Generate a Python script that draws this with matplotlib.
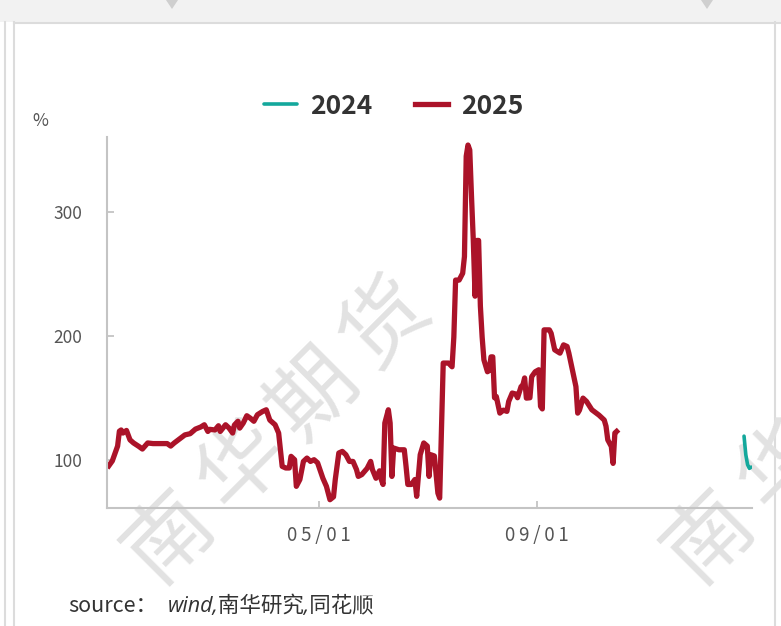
import matplotlib
matplotlib.use("Agg")
import matplotlib.pyplot as plt
from matplotlib.patches import Polygon, Rectangle
from matplotlib.lines import Line2D
import pandas as pd

plt.rcParams['font.family'] = ['Noto Sans CJK SC', 'DejaVu Sans']

# day offsets from Jan 1 and values (%)
days_2025 = [1, 3, 6, 7, 8, 9, 11, 13, 15, 18, 20, 23, 26, 34, 36, 38, 41, 44, 47, 50,
             53, 55, 57, 58, 61, 63, 64, 67, 69, 71, 72, 74, 75, 77, 79, 81, 83, 85, 88, 90,
             92, 95, 97, 99, 101, 103, 104, 106, 107, 109, 111, 113, 115, 117, 119, 121, 122, 124, 126, 128,
             129, 131, 133, 135, 137, 139, 141, 142, 144, 147, 149, 150, 152, 154, 155, 156, 157, 159, 160, 161,
             162, 165, 168, 169, 170, 172, 174, 175, 177, 179, 181, 182, 183, 185, 187, 188, 190, 193, 195, 196,
             197, 199, 201, 202, 203, 204, 205, 206, 207, 208, 209, 210, 211, 212, 213, 215, 216, 217, 218, 219,
             220, 222, 224, 226, 227, 229, 231, 232, 234, 235, 236, 237, 239, 240, 242, 244, 245, 246, 247, 250,
             251, 253, 256, 258, 260, 261, 263, 265, 266, 267, 269, 271, 274, 278, 281, 282, 283, 285, 286, 287,
             288]
vals_2025 = [95, 99, 111, 123, 124, 121.5, 123.6, 116, 113.5, 110.7, 108.6, 113.5, 113, 113, 111, 113.5, 116.7, 120, 121, 124.7,
             126.4, 128.2, 122.8, 124.5, 124, 127.4, 122.8, 128.2, 125.5, 121.5, 128, 131, 125.5, 129.6, 135.5, 133.5, 131, 136.3, 139, 140.3,
             132, 128.2, 121.5, 94.6, 93.3, 93.3, 102.7, 100, 78.5, 84, 98.6, 101.3, 98.6, 100, 97.5, 89, 85, 78.5, 67.7, 70,
             84, 105.4, 106.7, 104, 98.6, 98.6, 92, 86.5, 88, 93, 98.6, 92, 85, 91, 84, 80, 129.6, 140.3, 129.6, 86.5,
             109.4, 108, 108, 94.6, 80, 80, 84, 70.4, 104, 113.5, 111, 86.5, 104, 103, 73, 69, 178, 178, 175, 199,
             245, 245, 250.5, 264, 345, 354, 350, 312, 277, 232, 277, 277, 224, 199, 180.6, 171, 172, 183, 183, 150,
             151, 137.6, 140, 139, 147, 153.8, 153, 150, 159, 160, 166, 149.7, 150, 167, 171, 172.6, 143, 141, 204.8, 204.8,
             202, 188.7, 186, 192.7, 191.4, 186, 172.6, 159, 137.6, 140, 149.7, 147, 140.3, 136, 132, 127, 116, 110.7, 97, 121.5,
             122.8]

days_2024 = [360, 361, 362, 363, 364]
vals_2024 = [119, 104, 96, 93, 94]

base = pd.Timestamp('2025-01-01')
x25 = [base + pd.Timedelta(days=d) for d in days_2025]
x24 = [base + pd.Timedelta(days=d) for d in days_2024]

c24 = '#14a89c'
c25 = '#ab1329'
grey = '#c4c4c4'
txt = '#333333'
tick_txt = '#555555'

fig = plt.figure(figsize=(7.81, 6.26), dpi=100)
fig.patch.set_facecolor('white')

# page chrome
fig.patches.append(Rectangle((0, 1 - 22/626), 1, 22/626, transform=fig.transFigure,
                             facecolor='#f2f2f2', edgecolor='none', zorder=-5))
fig.lines.append(Line2D([14/781, 1], [1 - 23/626]*2, transform=fig.transFigure, color='#dcdcdc', lw=1.5, zorder=-4))
for xp in (5, 14, 775):
    fig.lines.append(Line2D([xp/781]*2, [0, 1 - 22/626], transform=fig.transFigure, color='#dcdcdc', lw=1.5, zorder=-4))
for xc in (172, 707):
    fig.patches.append(Polygon([((xc - 6)/781, 1), ((xc + 6)/781, 1), (xc/781, 1 - 9/626)],
                               closed=True, transform=fig.transFigure, facecolor='#cfcfcf',
                               edgecolor='none', zorder=-4))

# watermark, one glyph at a time along the diagonal (second copy runs off the right edge)
for x0, mark in ((170, '南华期货'), (710, '南华')):
    for i, ch in enumerate(mark):
        fig.text((x0 + 72*i)/781, 1 - (537 - 71*i)/626, ch, rotation=45, fontsize=62,
                 color='#e2e2e2', ha='center', va='center', zorder=-3)

ax = fig.add_axes([107/781, 1 - 508/626, (752 - 107)/781, (508 - 137)/626])
ax.patch.set_alpha(0)

ax.plot(x24, vals_2024, color=c24, lw=2.6, solid_capstyle='round', label='2024')
ax.plot(x25, vals_2025, color=c25, lw=3.8, solid_joinstyle='round', label='2025')

ax.set_xlim(base, base + pd.Timedelta(days=364.5))
ax.set_ylim(61, 360.5)
ax.set_yticks([100, 200, 300])
ax.set_xticks([pd.Timestamp('2025-05-01'), pd.Timestamp('2025-09-01')])
ax.set_xticklabels(['0\u20095\u2009/\u20090\u20091', '0\u20099\u2009/\u20090\u20091'])

for s in ('top', 'right'):
    ax.spines[s].set_visible(False)
for s in ('left', 'bottom'):
    ax.spines[s].set_color(grey)
    ax.spines[s].set_linewidth(1.5)
ax.tick_params(axis='both', direction='in', length=5, width=1.3, color=grey,
               labelsize=12.5, labelcolor=tick_txt)
ax.tick_params(axis='x', labelsize=13.5, pad=12)
ax.tick_params(axis='y', pad=18)

fig.text(32/781, 1 - 121/626, '%', fontsize=12.5, color=tick_txt, ha='left', va='center')

leg = fig.legend(handles=ax.get_lines(), loc='center', bbox_to_anchor=(394/781, 1 - 106/626),
                 ncol=2, frameon=False, prop={'weight': 'bold', 'size': 19},
                 handlelength=1.25, columnspacing=1.6, handletextpad=0.5)
for t in leg.get_texts():
    t.set_color(txt)

fig.text(68/781, 1 - 606/626, 'source：', fontsize=15.5, color=txt, ha='left', va='center')
fig.text(168/781, 1 - 606/626, 'wind,南华研究,同花顺', fontsize=15.5, color=txt, style='italic',
         family=['Open Sans', 'Noto Sans CJK SC'], ha='left', va='center')

fig.savefig('out.png', dpi=100)
